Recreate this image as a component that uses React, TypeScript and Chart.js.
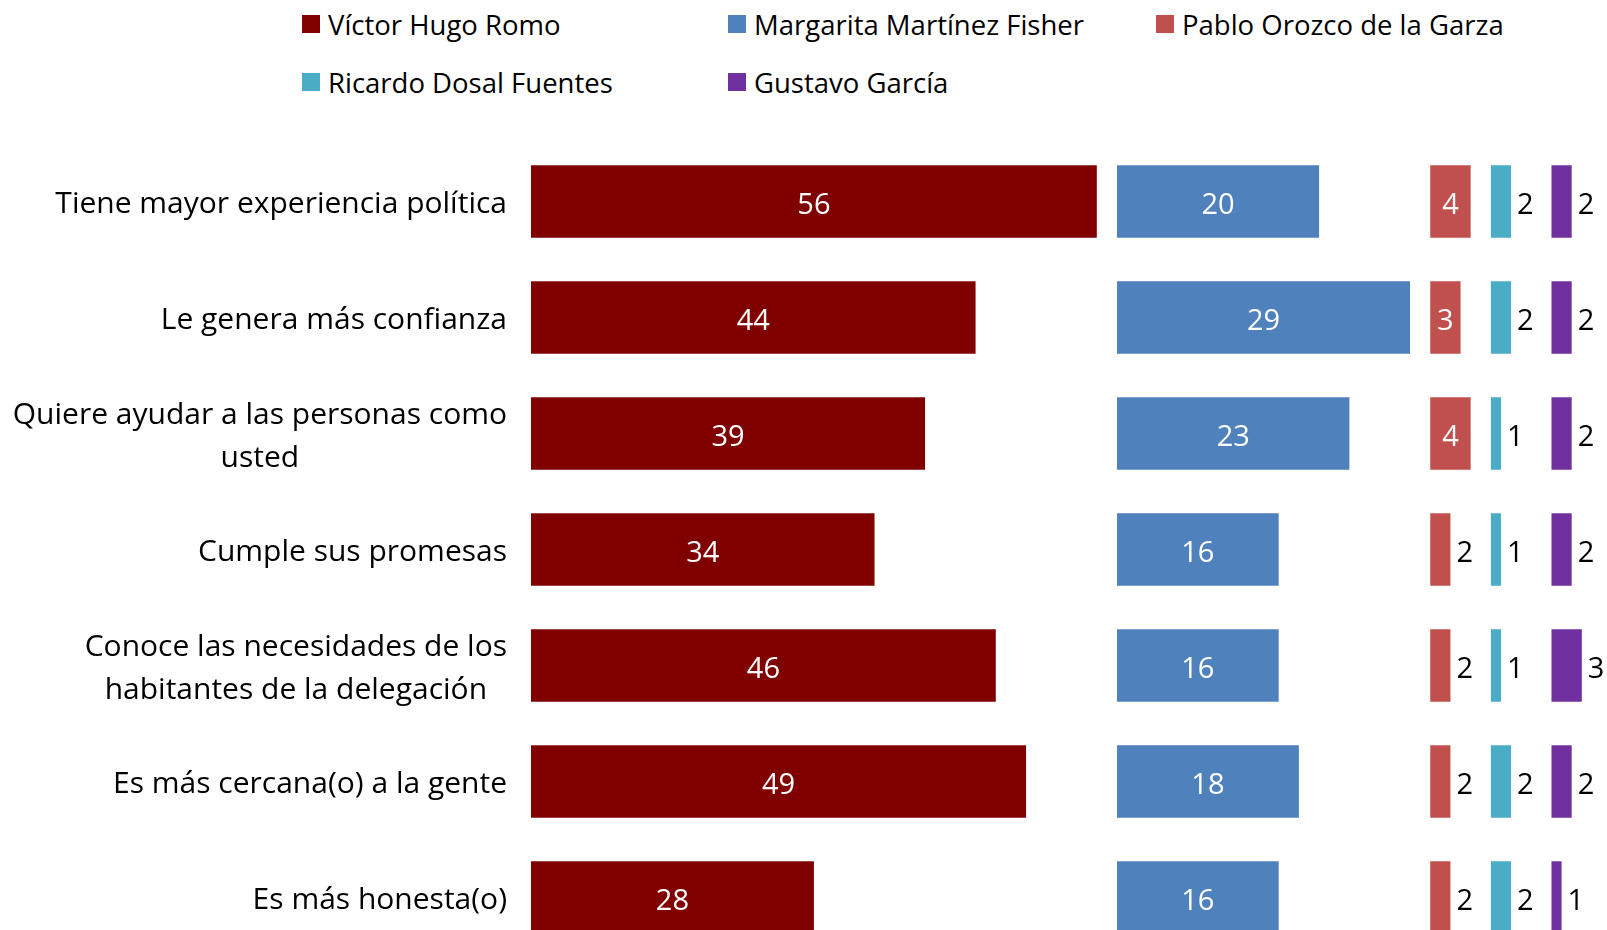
import { useEffect, useRef } from "react";
import { Chart, registerables } from "chart.js";

Chart.register(...registerables);

const categories: string[][] = [
  ["Tiene mayor experiencia política"],
  ["Le genera más confianza"],
  ["Quiere ayudar a las personas como", "usted"],
  ["Cumple sus promesas"],
  ["Conoce las necesidades de los", "habitantes de la delegación"],
  ["Es más cercana(o) a la gente"],
  ["Es más honesta(o)"],
];

const seriesNames = [
  "Víctor Hugo Romo",
  "Margarita Martínez Fisher",
  "Pablo Orozco de la Garza",
  "Ricardo Dosal Fuentes",
  "Gustavo García",
];

const victor = [56, 44, 39, 34, 46, 49, 28];
const margarita = [20, 29, 23, 16, 16, 18, 16];
const pablo = [4, 3, 4, 2, 2, 2, 2];
const ricardo = [2, 2, 1, 1, 1, 2, 2];
const gustavo = [2, 2, 2, 2, 3, 2, 1];

const seriesValues = [victor, margarita, pablo, ricardo, gustavo];
const seriesColors = ["#800000", "#4F81BD", "#C0504D", "#4BACC6", "#7030A0"];
// label placement per series: "fit" = inside when it fits, "outside" = always to the right
const labelModes = ["fit", "fit", "fit", "outside", "outside"];
// width reserved (axis units) for each candidate column before the next starts
const columnWidths = [58, 31, 6, 6];
const axisMax = 106;

const FONT = "'Open Sans', 'Noto Sans', sans-serif";
const CAT_FONT_SIZE = 30;
const VALUE_FONT_SIZE = 29;
const LEGEND_FONT_SIZE = 27.5;

const legendCols = [302, 728, 1156];
const legendRows = [24, 82];

export default function App() {
  const canvasRef = useRef<HTMLCanvasElement | null>(null);

  useEffect(() => {
    if (!canvasRef.current) return;

    const datasets: any[] = [];
    seriesValues.forEach((vals, si) => {
      datasets.push({
        label: seriesNames[si],
        data: vals,
        backgroundColor: seriesColors[si],
        borderWidth: 0,
        barPercentage: 1,
        categoryPercentage: 0.625,
        _real: si,
      });
      if (si < columnWidths.length) {
        datasets.push({
          label: "spacer" + si,
          data: vals.map((v) => columnWidths[si] - v),
          backgroundColor: "rgba(0,0,0,0)",
          borderWidth: 0,
          barPercentage: 1,
          categoryPercentage: 0.625,
          _spacer: true,
        });
      }
    });

    const labelPlugin = {
      id: "labels",
      afterDatasetsDraw(chart: any) {
        const ctx = chart.ctx;
        ctx.save();
        ctx.font = `${VALUE_FONT_SIZE}px ${FONT}`;
        ctx.textBaseline = "middle";
        chart.data.datasets.forEach((ds: any, di: number) => {
          if (ds._spacer) return;
          const meta = chart.getDatasetMeta(di);
          const mode = labelModes[ds._real];
          meta.data.forEach((el: any, i: number) => {
            const v = ds.data[i];
            const txt = String(v);
            const tw = ctx.measureText(txt).width;
            const x = el.x;
            const base = el.base;
            const w = Math.abs(x - base);
            if (mode === "fit" && w >= tw + 8) {
              ctx.fillStyle = "#ffffff";
              ctx.textAlign = "center";
              ctx.fillText(txt, (x + base) / 2, el.y + 4);
            } else {
              ctx.fillStyle = "#000000";
              ctx.textAlign = "left";
              ctx.fillText(txt, Math.max(x, base) + 6, el.y + 4);
            }
          });
        });
        ctx.restore();
      },
    };

    const categoryPlugin = {
      id: "categoryLabels",
      afterDraw(chart: any) {
        const ctx = chart.ctx;
        const yScale = chart.scales.y;
        const right = chart.chartArea.left - 24;
        const lineH = 43;
        ctx.save();
        ctx.font = `${CAT_FONT_SIZE}px ${FONT}`;
        ctx.fillStyle = "#000000";
        ctx.textBaseline = "middle";
        ctx.textAlign = "center";
        categories.forEach((lines, i) => {
          const yc = yScale.getPixelForValue(i);
          const blockW = Math.max(...lines.map((l) => ctx.measureText(l).width));
          const cx = right - blockW / 2;
          const y0 = yc - ((lines.length - 1) * lineH) / 2;
          lines.forEach((l, li) => {
            ctx.fillText(l, cx, y0 + li * lineH + 3);
          });
        });
        ctx.restore();
      },
    };

    const chart = new Chart(canvasRef.current, {
      type: "bar",
      data: {
        labels: categories.map((c) => c.join(" ")),
        datasets,
      },
      options: {
        indexAxis: "y",
        animation: false,
        responsive: true,
        maintainAspectRatio: false,
        layout: {
          padding: { left: 531, right: 5, top: 143.5, bottom: 4.5 },
        },
        plugins: {
          legend: { display: false },
          tooltip: { enabled: false },
        },
        scales: {
          x: {
            stacked: true,
            display: false,
            min: 0,
            max: axisMax,
          },
          y: {
            stacked: true,
            display: false,
          },
        },
      },
      plugins: [labelPlugin, categoryPlugin],
    });

    return () => chart.destroy();
  }, []);

  return (
    <div
      style={{
        position: "fixed",
        left: 0,
        top: 0,
        width: 1607,
        height: 930,
        overflow: "hidden",
        background: "#ffffff",
        fontFamily: FONT,
      }}
    >
      {seriesNames.map((name, i) => {
        const col = legendCols[i % 3];
        const row = legendRows[Math.floor(i / 3)];
        return (
          <div
            key={name}
            style={{
              position: "absolute",
              left: col,
              top: row - 20,
              height: 40,
              display: "flex",
              alignItems: "center",
              whiteSpace: "nowrap",
              fontSize: LEGEND_FONT_SIZE,
              color: "#000000",
            }}
          >
            <span
              style={{
                display: "inline-block",
                width: 18,
                height: 18,
                background: seriesColors[i],
                marginRight: 8,
              }}
            />
            <span style={{ position: "relative", top: 0 }}>{name}</span>
          </div>
        );
      })}
      <div style={{ position: "absolute", left: 0, top: 0, width: 1607, height: 960 }}>
        <canvas ref={canvasRef} />
      </div>
    </div>
  );
}
